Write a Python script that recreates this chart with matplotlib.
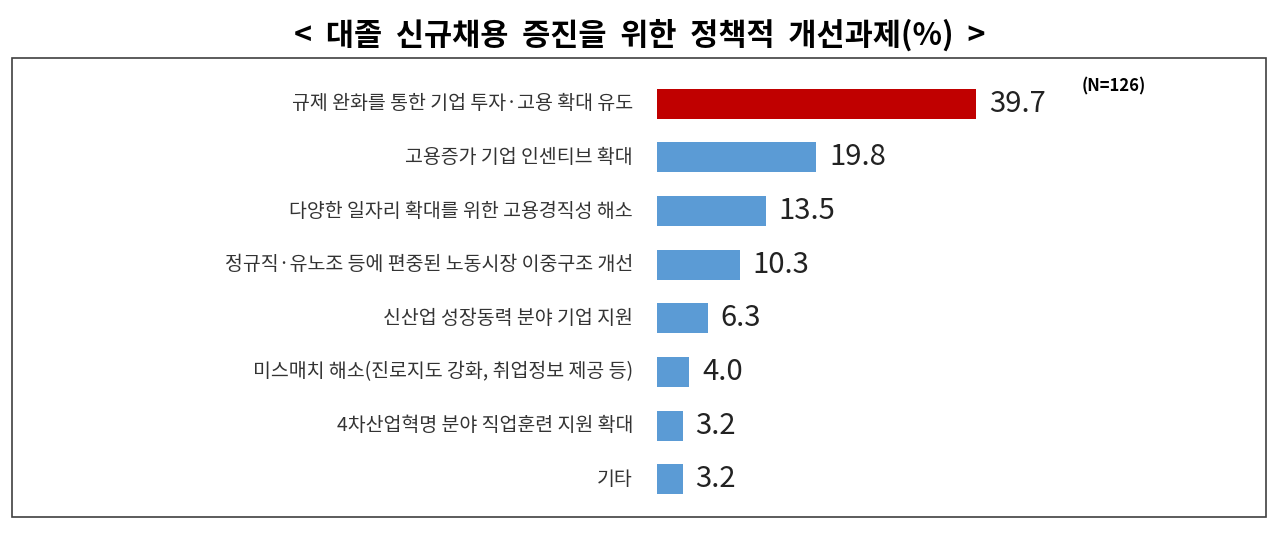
import matplotlib
matplotlib.use('Agg')
import matplotlib.pyplot as plt
from matplotlib.patches import Rectangle

plt.rcParams['font.family'] = ['Noto Sans CJK KR', 'DejaVu Sans']

labels = ['규제 완화를 통한 기업 투자·고용 확대 유도', '고용증가 기업 인센티브 확대',
          '다양한 일자리 확대를 위한 고용경직성 해소', '정규직·유노조 등에 편중된 노동시장 이중구조 개선',
          '신산업 성장동력 분야 기업 지원', '미스매치 해소(진로지도 강화, 취업정보 제공 등)',
          '4차산업혁명 분야 직업훈련 지원 확대', '기타']
values = [39.7, 19.8, 13.5, 10.3, 6.3, 4.0, 3.2, 3.2]
colors = ['#C00000'] + ['#5B9BD5'] * 7

fig = plt.figure(figsize=(12.8, 5.35), dpi=100)
fig.patches.append(Rectangle((12/1280, 18/535), 1254/1280, 459/535, transform=fig.transFigure,
                             fill=False, edgecolor='#404040', linewidth=1.2))
fig.text(0.5, 1 - 35/535, '<  대졸  신규채용  증진을  위한  정책적  개선과제(%)  >', ha='center', va='center',
         fontsize=22, fontweight='bold')

ax = fig.add_axes([657/1280, 29/535, 609/1280, 429/535])
y = list(range(len(values)))
ax.barh(y, values, height=0.56, color=colors)
ax.set_xlim(0, 609/8.04)
ax.set_ylim(len(values) - 0.5, -0.5)
for i, v in enumerate(values):
    ax.text(v + 1.6, i, '%.1f' % v, va='center', ha='left', fontsize=21, color='#222222')
    ax.text(-3.0, i, labels[i], va='center', ha='right', fontsize=14, color='#333333')
ax.text(52.8, -0.32, '(N=126)', fontsize=12, fontweight='bold', ha='left', va='center')
ax.set_xticks([])
ax.set_yticks([])
for s in ax.spines.values():
    s.set_visible(False)

plt.savefig('out.png')
plt.close()
